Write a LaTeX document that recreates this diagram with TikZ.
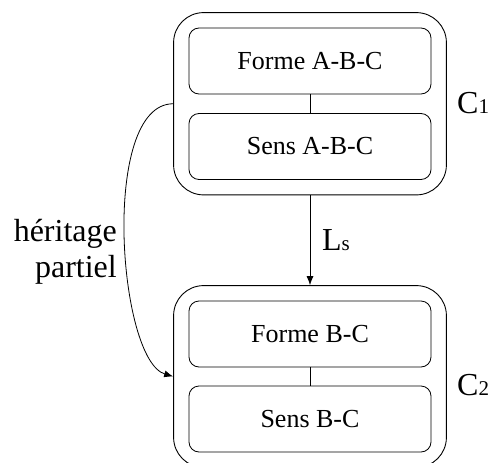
\documentclass[tikz,border=0pt]{standalone}
\usepackage{fontspec}
\setmainfont{Liberation Serif}
\usetikzlibrary{fit,arrows.meta}

\begin{document}
\begin{tikzpicture}[x=1pt, y=-1pt,
		part/.style={draw, rounded corners=10pt, minimum width=242pt, minimum height=66pt, font=\fontsize{26}{30}\selectfont, line width=0.8pt},
		unit/.style={draw, rounded corners=30pt, inner sep=15pt, line width=0.9pt},
		tag/.style={font=\fontsize{32}{36}\selectfont, inner sep=0pt},
		link/.style={-{Latex[length=9pt,width=7pt]}, line width=0.8pt}
		]
		\useasboundingbox (0,0) rectangle (493,463);
		\node[part] (forme1) at (310,61) {Forme A-B-C};
		\node[part] (sens1) at (310,146.5) {Sens A-B-C};
		\node[part] (forme2) at (310,334) {Forme B-C};
		\node[part] (sens2) at (310,419) {Sens B-C};
		\node[unit, fit=(forme1)(sens1)] (c1) {};
		\node[unit, fit=(forme2)(sens2)] (c2) {};
		\draw[line width=0.8pt] (forme1) -- (sens1);
		\draw[line width=0.8pt] (forme2) -- (sens2);
		\node[tag, anchor=base west] (nc1) at (457,113) {C{\fontsize{21}{21}\selectfont 1}};
		\node[tag, anchor=base west] (nc2) at (457,395) {C{\fontsize{21}{21}\selectfont 2}};
		\draw[link] (c1.south) -- (c2.north);
		\node[tag, anchor=base west] (ls) at (322,250) {L{\fontsize{21}{21}\selectfont s}};
		\draw[link] (c1.west) .. controls (100,104) and (118,360) .. (c2.west);
		\node[tag, align=right, anchor=east] (herit) at (117,252) {héritage\\partiel};
	\end{tikzpicture}
\end{document}
